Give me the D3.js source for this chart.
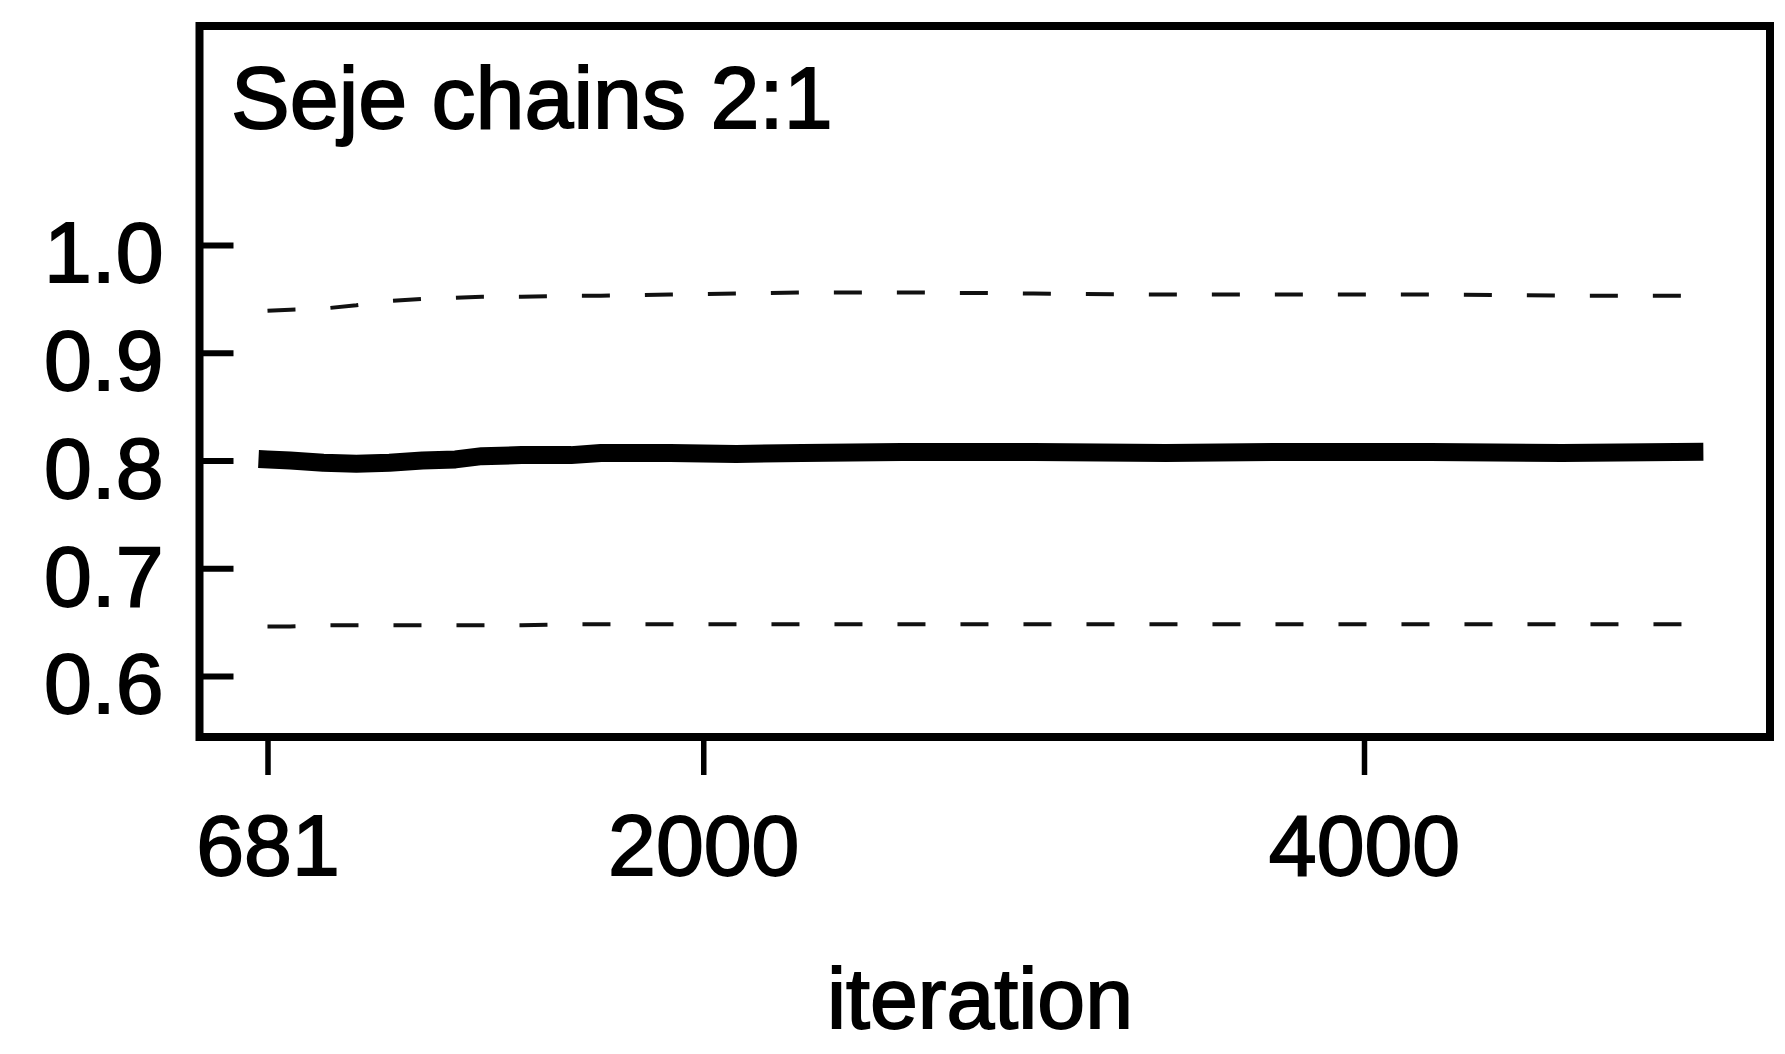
<!DOCTYPE html>
<html>
<head>
<meta charset="utf-8">
<script src="https://cdn.jsdelivr.net/npm/d3@7/dist/d3.min.js"></script>
<style>
  html, body { margin: 0; padding: 0; background: #fff; }
  svg { display: block; }
  text { font-family: "Liberation Sans", Arial, sans-serif; fill: #000; }
</style>
</head>
<body>
<svg id="chart" width="1785" height="1054"></svg>
<script>
// ---- data ----
const titleText = "Seje chains 2:1";
const xLabel = "iteration";
const xTickValues = [681, 2000, 4000];
const yTickValues = [0.6, 0.7, 0.8, 0.9, 1.0];
const iterations = [681, 750, 850, 950, 1050, 1150, 1250, 1330, 1450, 1600, 1690, 1900, 2100, 2300, 2600, 3000, 3400, 3800, 4200, 4600, 5000];
const medianValues = [0.801, 0.800, 0.798, 0.797, 0.798, 0.800, 0.801, 0.804, 0.805, 0.805, 0.807, 0.807, 0.806, 0.807, 0.808, 0.808, 0.807, 0.808, 0.808, 0.807, 0.808];
const upperValues  = [0.939, 0.940, 0.941, 0.944, 0.948, 0.950, 0.951, 0.952, 0.952, 0.953, 0.953, 0.954, 0.955, 0.956, 0.956, 0.955, 0.954, 0.954, 0.954, 0.953, 0.953];
const lowerValues  = [0.646, 0.646, 0.647, 0.647, 0.647, 0.647, 0.647, 0.647, 0.647, 0.648, 0.648, 0.648, 0.648, 0.648, 0.648, 0.648, 0.648, 0.648, 0.648, 0.648, 0.648];

// ---- layout ----
const box = { left: 199.5, top: 26, right: 1770, bottom: 737 };
const svg = d3.select("#chart");

const x = d3.scaleLinear().domain([681, 4000]).range([267.5, 1364]);
const y = d3.scaleLinear().domain([0.6, 1.0]).range([676, 245]);

const line = d3.line().x(d => x(d[0])).y(d => y(d[1]));
const zip = vals => iterations.map((it, i) => [it, vals[i]]);

// quantile lines (dashed)
[upperValues, lowerValues].forEach(vals => {
  svg.append("path")
    .datum(zip(vals))
    .attr("d", line)
    .attr("fill", "none")
    .attr("stroke", "#111")
    .attr("stroke-width", 4)
    .attr("stroke-dasharray", "28,35");
});

// median line (thick band)
svg.append("path")
  .datum(zip(medianValues))
  .attr("d", line)
  .attr("fill", "none")
  .attr("stroke", "#000")
  .attr("stroke-width", 18)
  .attr("stroke-linecap", "square")
  .attr("stroke-linejoin", "round");

// frame
svg.append("rect")
  .attr("x", box.left).attr("y", box.top)
  .attr("width", box.right - box.left).attr("height", box.bottom - box.top)
  .attr("fill", "none").attr("stroke", "#000").attr("stroke-width", 8);

// y axis: inward ticks
const yAxis = d3.axisLeft(y).tickValues(yTickValues).tickFormat(d3.format(".1f"))
  .tickSizeInner(-34).tickSizeOuter(0).tickPadding(36);
const gy = svg.append("g").attr("transform", `translate(${box.left},0)`).call(yAxis);
gy.select(".domain").remove();
gy.selectAll(".tick line").attr("stroke", "#000").attr("stroke-width", 6);
gy.selectAll(".tick text").attr("font-size", 86).attr("dy", "0.43em")
  .attr("font-family", "Liberation Sans, Arial, sans-serif").attr("fill", "#000")
  .attr("stroke", "#000").attr("stroke-width", 1.8);

// x axis: outward ticks
const xAxis = d3.axisBottom(x).tickValues(xTickValues).tickFormat(d3.format("d"))
  .tickSizeInner(38).tickSizeOuter(0).tickPadding(39);
const gx = svg.append("g").attr("transform", `translate(0,${box.bottom})`).call(xAxis);
gx.select(".domain").remove();
gx.selectAll(".tick line").attr("stroke", "#000").attr("stroke-width", 5.5);
gx.selectAll(".tick text").attr("font-size", 86)
  .attr("font-family", "Liberation Sans, Arial, sans-serif").attr("fill", "#000")
  .attr("stroke", "#000").attr("stroke-width", 1.8);

// title inside plot
svg.append("text")
  .attr("x", 231).attr("y", 128)
  .attr("font-size", 88)
  .attr("stroke", "#000").attr("stroke-width", 1.8)
  .text(titleText);

// x label
svg.append("text")
  .attr("x", 980).attr("y", 1028)
  .attr("text-anchor", "middle")
  .attr("font-size", 86)
  .attr("stroke", "#000").attr("stroke-width", 1.8)
  .text(xLabel);
</script>
</body>
</html>
